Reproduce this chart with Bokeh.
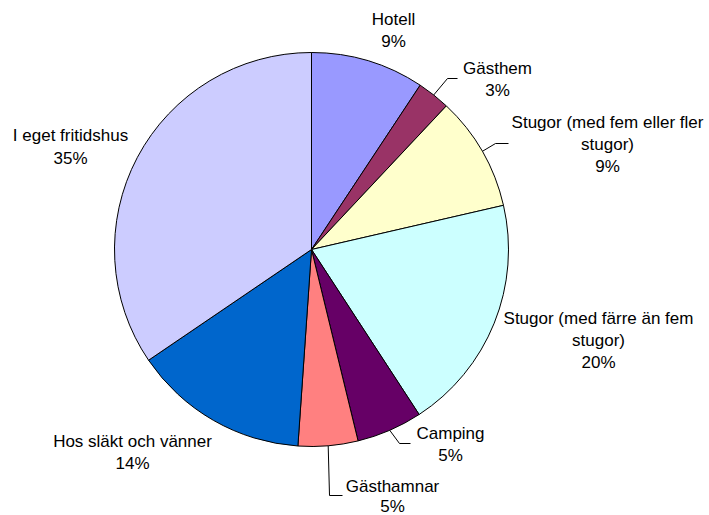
import math
from bokeh.plotting import figure
from bokeh.models import Range1d, ColumnDataSource
from bokeh.core.properties import value
from bokeh.embed import file_html
from bokeh.resources import INLINE

# ---- data ----
categories = ["Hotell", "Gästhem", "Stugor (med fem eller fler stugor)",
              "Stugor (med färre än fem stugor)", "Camping", "Gästhamnar",
              "Hos släkt och vänner", "I eget fritidshus"]
shares = [9.3, 2.7, 9.4, 19.4, 5.4, 4.9, 14.4, 34.5]
pct_labels = ["9%", "3%", "9%", "20%", "5%", "5%", "14%", "35%"]
colors = ["#9999FF", "#993366", "#FFFFCC", "#CCFFFF", "#660066", "#FF8080",
          "#0066CC", "#CCCCFF"]

W, H = 709, 515


def X(sx):
    return sx


def Y(sy):
    return H - sy


cx, cy, R = X(311), Y(249), 197

total = sum(shares)
starts, ends, mids = [], [], []
cum = 0.0
for s in shares:
    a0 = math.pi / 2 - 2 * math.pi * cum / total
    cum += s
    a1 = math.pi / 2 - 2 * math.pi * cum / total
    starts.append(a0)
    ends.append(a1)
    mids.append((a0 + a1) / 2)

p = figure(width=W, height=H, x_range=Range1d(0, W), y_range=Range1d(0, H),
           output_backend="svg", toolbar_location=None, min_border=0)
p.axis.visible = False
p.grid.visible = False
p.outline_line_color = None
p.background_fill_color = "white"

src = ColumnDataSource(dict(x=[cx] * len(shares), y=[cy] * len(shares),
                            start=starts, end=ends, color=colors))
p.wedge(x="x", y="y", radius=R, start_angle="start", end_angle="end",
        direction="clock", fill_color="color", line_color="black",
        line_width=1, source=src)

# label layout (screen positions of line centres)
label_layout = {
    0: (393, [19, 41]),
    1: (497, [68, 90]),
    2: (607, [122, 144, 166]),
    3: (598, [318, 340, 362]),
    4: (450, [433, 455]),
    5: (392, [486, 506]),
    6: (132, [441, 463]),
    7: (70, [135, 158]),
}
split_names = {
    2: ["Stugor (med fem eller fler", "stugor)"],
    3: ["Stugor (med färre än fem", "stugor)"],
}
tx, ty, tt = [], [], []
for i, (lx, ys) in label_layout.items():
    lines = split_names.get(i, [categories[i]]) + [pct_labels[i]]
    for line, ly in zip(lines, ys):
        tx.append(X(lx))
        ty.append(Y(ly))
        tt.append(line)
p.text(x=tx, y=ty, text=tt, text_align="center", text_baseline="middle",
       text_font=value("Liberation Sans"), text_font_size="17px",
       text_color="black")

# leader lines: (slice index, elbow, end) in screen px
leaders = {1: [(447, 78), (457, 78)],
           2: [(495, 143), (508, 143)],
           4: [(399, 443), (410, 443)],
           5: [(329, 495), (342, 495)]}
lxs, lys = [], []
for i, pts in leaders.items():
    a = mids[i]
    x0, y0 = cx + R * math.cos(a), cy + R * math.sin(a)
    lxs.append([x0] + [X(px) for px, _ in pts])
    lys.append([y0] + [Y(py) for _, py in pts])
p.multi_line(xs=lxs, ys=lys, line_color="black", line_width=1)

open("out.html", "w").write(file_html(p, INLINE))
